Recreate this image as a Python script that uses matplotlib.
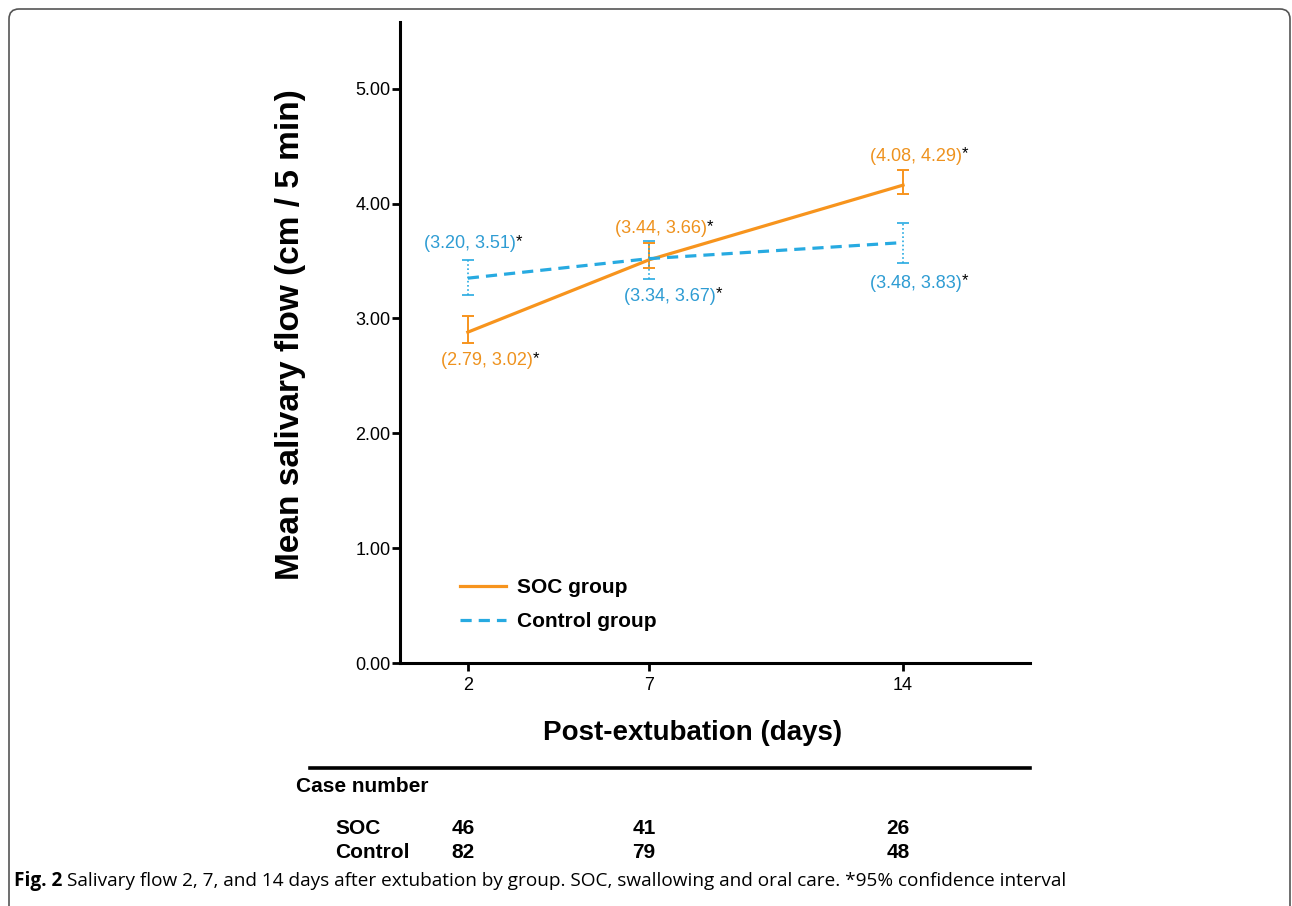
import numpy as np
import matplotlib
matplotlib.use("Agg")
import matplotlib.pyplot as plt
from matplotlib.patches import FancyBboxPatch
from matplotlib.transforms import IdentityTransform

# Datos
days = [2, 7, 14]
soc_mean = [2.88, 3.51, 4.16]
soc_lo = [2.79, 3.44, 4.08]
soc_hi = [3.02, 3.66, 4.29]
ctl_mean = [3.35, 3.52, 3.66]
ctl_lo = [3.20, 3.34, 3.48]
ctl_hi = [3.51, 3.67, 3.83]
soc_n = [46, 41, 26]
ctl_n = [82, 79, 48]
yticks = [0, 1, 2, 3, 4, 5]

orange = "#F7941D"
blue = "#27AAE1"
orange_txt = "#EE921E"
blue_txt = "#2E9CD3"

plt.rcParams['font.family'] = ['Liberation Sans', 'DejaVu Sans']

fig = plt.figure(figsize=(12.92, 9.06), dpi=100)
ax = fig.add_axes([400/1292, 1-663/906, 630/1292, 641/906])

# Lineas y barras de error
ax.plot(days, soc_mean, "-", color=orange, lw=2.3, label="SOC group", zorder=3)
ax.plot(days, ctl_mean, "--", color=blue, lw=2.3, dashes=(3.5, 2.2), label="Control group", zorder=3)

e1 = ax.errorbar(days, soc_mean,
                 yerr=[np.array(soc_mean)-np.array(soc_lo), np.array(soc_hi)-np.array(soc_mean)],
                 fmt="none", ecolor=orange, elinewidth=1.4, capsize=4.5, capthick=1.4, zorder=2)
e2 = ax.errorbar(days, ctl_mean,
                 yerr=[np.array(ctl_mean)-np.array(ctl_lo), np.array(ctl_hi)-np.array(ctl_mean)],
                 fmt="none", ecolor=blue, elinewidth=1.2, capsize=4.5, capthick=1.2, zorder=2)
e2[2][0].set_linestyle((0, (1, 1.5)))

# Etiquetas de intervalos de confianza (offsets en pixeles)
def ci_label(x, y, lo, hi, color, dx, dy):
    t = ax.annotate("(%.2f, %.2f)" % (lo, hi), xy=(x, y), xytext=(dx, dy),
                    textcoords="offset pixels", ha="center", va="center",
                    color=color, fontsize=13)
    ax.annotate("*", xy=(1.0, 1.08), xycoords=t, ha="left", va="top",
                color="black", fontsize=12)

offs_soc = [(19, -18, "lo"), (12, 14, "hi"), (13, 14, "hi")]
offs_ctl = [(2, 16, "hi"), (21, -17, "lo"), (13, -20, "lo")]
for i in range(3):
    dx, dy, w = offs_soc[i]
    ci_label(days[i], soc_lo[i] if w == "lo" else soc_hi[i], soc_lo[i], soc_hi[i], orange_txt, dx, dy)
    dx, dy, w = offs_ctl[i]
    ci_label(days[i], ctl_lo[i] if w == "lo" else ctl_hi[i], ctl_lo[i], ctl_hi[i], blue_txt, dx, dy)

# Ejes
ax.set_xlim(0.13, 17.5)
ax.set_ylim(0, 5.58)
ax.set_xticks(days)
ax.set_xticklabels([str(d) for d in days], fontsize=13)
ax.set_yticks(yticks)
ax.set_yticklabels(["%.2f" % v for v in yticks], fontsize=13)
for s in ["top", "right"]:
    ax.spines[s].set_visible(False)
for s in ["left", "bottom"]:
    ax.spines[s].set_linewidth(2.2)
ax.tick_params(axis="both", width=2, length=6, pad=1, colors="black")
ax.tick_params(axis="x", pad=4)
ax.set_ylabel("Mean salivary flow (cm / 5 min)", fontsize=24, fontweight="bold")
ax.yaxis.set_label_coords(-(400-306)/630, (663-335)/641)
ax.set_xlabel("Post-extubation (days)", fontsize=20, fontweight="bold")
ax.xaxis.set_label_coords((693-400)/630, -(720-663)/641)

leg = ax.legend(loc="lower left", bbox_to_anchor=(0.065, 0.02), frameon=False,
                prop={"weight": "bold", "size": 15}, handlelength=2.2,
                handletextpad=0.55, labelspacing=0.75)

# Tabla de numero de casos
fig.add_artist(plt.Line2D([310/1292, 1030/1292], [1-768/906, 1-768/906], color="black", lw=2.6))
fig.text(296/1292, 1-787/906, "Case number", fontsize=15, fontweight="bold", va="center")
fig.text(335/1292, 1-828/906, "SOC", fontsize=15, fontweight="bold", va="center")
fig.text(335/1292, 1-853/906, "Control", fontsize=15, fontweight="bold", va="center")
for i in range(3):
    xf = ax.transData.transform((days[i], 0))[0] / 1292
    fig.text(xf - 5/1292, 1-828/906, str(soc_n[i]), fontsize=15, fontweight="bold", va="center", ha="center")
    fig.text(xf - 5/1292, 1-853/906, str(ctl_n[i]), fontsize=15, fontweight="bold", va="center", ha="center")

# Pie de figura
cap = fig.text(14/1292, 1-881/906, "Fig. 2", fontsize=13.7, fontweight="bold", va="center",
               family=["Open Sans", "DejaVu Sans"])
fig.canvas.draw()
bb = cap.get_window_extent()
fig.text((bb.x1 + 5)/1292, 1-881/906,
         "Salivary flow 2, 7, and 14 days after extubation by group. SOC, swallowing and oral care. *95% confidence interval",
         fontsize=13.7, va="center", family=["Open Sans", "DejaVu Sans"])

# Marco
frame = FancyBboxPatch((9, -30), 1281, 897+30, boxstyle="round,pad=0,rounding_size=10",
                       transform=IdentityTransform(), fill=False, ec="#555555", lw=1.2)
fig.add_artist(frame)

fig.savefig("out.png", dpi=100)
